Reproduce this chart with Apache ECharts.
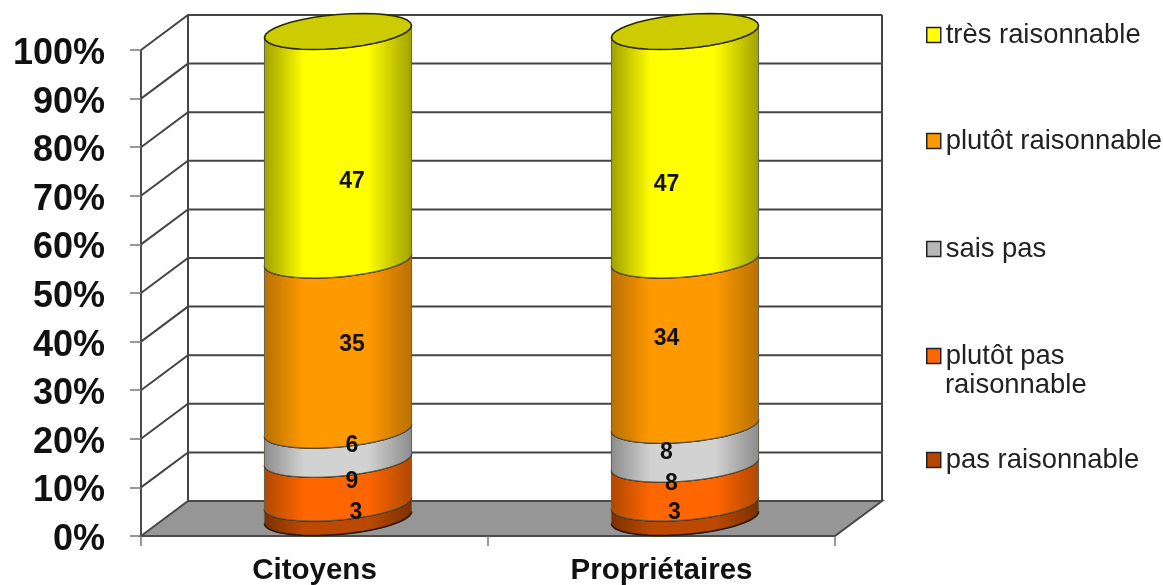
<!DOCTYPE html>
<html>
<head>
<meta charset="utf-8">
<style>html,body{margin:0;padding:0;background:#fff}#chart{width:1163px;height:585px}</style>
<script src="https://cdn.jsdelivr.net/npm/echarts@6/dist/echarts.min.js"></script>
</head>
<body>
<div id="chart"></div>
<script>
// Survey results, stacked from the bottom of each cylinder upward
const categories = ['Citoyens', 'Propriétaires'];
const pasRaisonnable = [3, 3];
const plutotPasRaisonnable = [9, 8];
const saisPas = [6, 8];
const plutotRaisonnable = [35, 34];
const tresRaisonnable = [47, 47];
const yTicks = [0, 10, 20, 30, 40, 50, 60, 70, 80, 90, 100];

const FONT = '"Liberation Sans", Arial, sans-serif';

// Oblique projection of the 3D box
const DEPTH_X = 47, DEPTH_Y = -35;
const BAR_DX = 23.5, BAR_DY = -18.5;
const BAR_HALF_BAND = 0.212;
const TILT = 6, ELLIPSE_H = 17;

const stackDefs = [
  { name: 'pas raisonnable', values: pasRaisonnable, mid: '#bb4a00', edge: '#7c3000', swatch: '#b34700' },
  { name: 'plutôt pas raisonnable', values: plutotPasRaisonnable, mid: '#ff6600', edge: '#b04800', swatch: '#ff6600' },
  { name: 'sais pas', values: saisPas, mid: '#d2d2d2', edge: '#8c8c8c', swatch: '#b8b8b8' },
  { name: 'plutôt raisonnable', values: plutotRaisonnable, mid: '#ff9900', edge: '#b87000', swatch: '#ff9900' },
  { name: 'très raisonnable', values: tresRaisonnable, mid: '#ffff00', edge: '#a0a000', swatch: '#ffff00' }
];

// Hand-placed value labels: [dx, dy] from the middle of each segment, per category
const labelNudges = [
  [[18, 2.5], [14, 1], [14, 1.5], [14, 0], [14, 35.5]],
  [[-10.5, 2.5], [-13.5, 0], [-18.5, 8.5], [-18.5, -3.5], [-18.5, 38.5]]
];

function edgeGradient(mid, edge) {
  return {
    type: 'linear', x: 0, y: 0, x2: 1, y2: 0,
    colorStops: [
      { offset: 0, color: edge },
      { offset: 0.27, color: mid },
      { offset: 0.7, color: mid },
      { offset: 1, color: edge }
    ]
  };
}

function arc(cx, cy, a, from, to) {
  const pts = [];
  const steps = 36;
  for (let i = 0; i <= steps; i++) {
    const t = from + (to - from) * i / steps;
    pts.push([cx + a * Math.cos(t), cy - TILT * Math.cos(t) + ELLIPSE_H * Math.sin(t)]);
  }
  return pts;
}

function renderFrame(params, api) {
  const tick = api.value(0);
  const sys = params.coordSys;
  const left = sys.x, right = sys.x + sys.width;
  const y = api.coord([0, tick])[1];
  const line = { stroke: '#454545', lineWidth: 2, fill: null };
  const children = [];
  if (tick === yTicks[0]) {
    const top = api.coord([0, yTicks[yTicks.length - 1]])[1];
    children.push({
      type: 'polygon',
      shape: { points: [[left, y], [left + DEPTH_X, y + DEPTH_Y], [right + DEPTH_X, y + DEPTH_Y], [right, y]] },
      style: { fill: '#969696', stroke: '#4a4a4a', lineWidth: 2 }
    });
    children.push({ type: 'polyline', shape: { points: [[left + DEPTH_X, y + DEPTH_Y], [left + DEPTH_X, top + DEPTH_Y]] }, style: line });
    children.push({ type: 'polyline', shape: { points: [[right + DEPTH_X, y + DEPTH_Y], [right + DEPTH_X, top + DEPTH_Y]] }, style: line });
  } else {
    children.push({
      type: 'polyline',
      shape: { points: [[left, y], [left + DEPTH_X, y + DEPTH_Y], [right + DEPTH_X, y + DEPTH_Y]] },
      style: line
    });
  }
  return { type: 'group', children };
}

function renderSegment(def, index) {
  return function (params, api) {
    const cat = api.value(0);
    const value = api.value(1);
    const base = api.value(2);
    const lowPt = api.coord([cat, base]);
    const highPt = api.coord([cat, base + value]);
    const cx = lowPt[0] + BAR_DX;
    const a = api.size([1, 0])[0] * BAR_HALF_BAND;
    const yLow = lowPt[1] + BAR_DY;
    const yHigh = highPt[1] + BAR_DY;
    const lowerArc = arc(cx, yLow, a, 0, Math.PI);
    const upperArc = arc(cx, yHigh, a, Math.PI, 0);
    const children = [{
      type: 'polygon',
      shape: { points: lowerArc.concat(upperArc) },
      style: { fill: edgeGradient(def.mid, def.edge), stroke: '#5f5f50', lineWidth: 1 }
    }];
    if (index === 0) {
      children.push({ type: 'polyline', shape: { points: lowerArc }, style: { fill: null, stroke: '#2b1400', lineWidth: 1.6 } });
    }
    if (index === stackDefs.length - 1) {
      children.push({
        type: 'polygon',
        shape: { points: arc(cx, yHigh, a, 0, Math.PI * 2) },
        style: { fill: '#cccc00', stroke: '#2b2b00', lineWidth: 1.6 }
      });
    } else {
      children.push({ type: 'polyline', shape: { points: upperArc }, style: { fill: null, stroke: '#2b1400', lineWidth: 1.6 } });
    }
    return { type: 'group', children };
  };
}

// Value labels sit above every cylinder part, so they get a series of their own
function renderValueLabel(params, api) {
  const cat = api.value(0);
  const value = api.value(1);
  const base = api.value(2);
  const nudge = labelNudges[cat][api.value(3)];
  const midPt = api.coord([cat, base + value / 2]);
  return {
    type: 'text',
    style: {
      x: midPt[0] + BAR_DX + nudge[0],
      y: midPt[1] + BAR_DY + nudge[1],
      text: String(value),
      fill: '#111',
      font: 'bold 23px ' + FONT,
      align: 'center',
      verticalAlign: 'middle'
    }
  };
}

const running = categories.map(() => 0);
const labelData = [];
const segmentSeries = stackDefs.map((def, index) => {
  const data = def.values.map((v, i) => {
    const item = [i, v, running[i]];
    labelData.push([i, v, running[i], index]);
    running[i] += v;
    return item;
  });
  return {
    name: def.name,
    type: 'custom',
    z: 3 + index,
    silent: true,
    clip: false,
    animation: false,
    encode: { x: 0, y: 1 },
    itemStyle: { color: def.swatch },
    renderItem: renderSegment(def, index),
    data
  };
});

const labelSeries = {
  type: 'custom',
  z: 20,
  silent: true,
  clip: false,
  animation: false,
  encode: { x: 0, y: 1 },
  renderItem: renderValueLabel,
  data: labelData
};

const frameSeries = {
  type: 'custom',
  z: 1,
  silent: true,
  clip: false,
  animation: false,
  encode: { y: 0 },
  renderItem: renderFrame,
  data: yTicks.map(t => [t])
};

// One legend block per entry, since the entries are unevenly spaced
const legendRows = [
  { name: 'très raisonnable', top: 20 },
  { name: 'plutôt raisonnable', top: 126 },
  { name: 'sais pas', top: 234 },
  { name: 'plutôt pas raisonnable', top: 341, text: 'plutôt pas' },
  { name: 'pas raisonnable', top: 445 }
];

const option = {
  backgroundColor: '#fff',
  animation: false,
  grid: { left: 141, right: 328, top: 50, bottom: 49, containLabel: false, outerBoundsMode: 'none' },
  xAxis: {
    type: 'category',
    data: categories,
    z: 2,
    axisLine: { lineStyle: { color: '#4a4a4a', width: 2 } },
    axisTick: { show: true, length: 10, alignWithLabel: false, lineStyle: { color: '#777', width: 1.5 } },
    axisLabel: { color: '#111', fontFamily: FONT, fontWeight: 'bold', fontSize: 29.5, margin: 20 }
  },
  yAxis: {
    type: 'value',
    min: 0,
    max: 100,
    interval: 10,
    z: 2,
    splitLine: { show: false },
    axisLine: { show: true, lineStyle: { color: '#4a4a4a', width: 2 } },
    axisTick: { show: true, length: 11, lineStyle: { color: '#777', width: 1.5 } },
    axisLabel: { formatter: '{value}%', color: '#111', fontFamily: FONT, fontWeight: 'bold', fontSize: 36, margin: 36, verticalAlign: 'top', padding: [-14, 0, 0, 0] }
  },
  legend: legendRows.map(row => ({
    data: [{ name: row.name, icon: 'rect' }],
    left: 926,
    top: row.top,
    padding: 0,
    orient: 'vertical',
    selectedMode: false,
    itemWidth: 14,
    itemHeight: 15,
    itemGap: 0,
    itemStyle: { borderColor: '#222', borderWidth: 1.5 },
    formatter: () => row.text || row.name,
    textStyle: { color: '#222', fontFamily: FONT, fontSize: 27.4, lineHeight: 30, padding: [0, 0, 0, 0] }
  })),
  graphic: [{
    type: 'text',
    left: 945,
    top: 372,
    style: { text: 'raisonnable', fill: '#222', font: '27.4px ' + FONT }
  }],
  series: [frameSeries].concat(segmentSeries, [labelSeries])
};

echarts.init(document.getElementById('chart'), null, { renderer: 'canvas' }).setOption(option);
</script>
</body>
</html>
